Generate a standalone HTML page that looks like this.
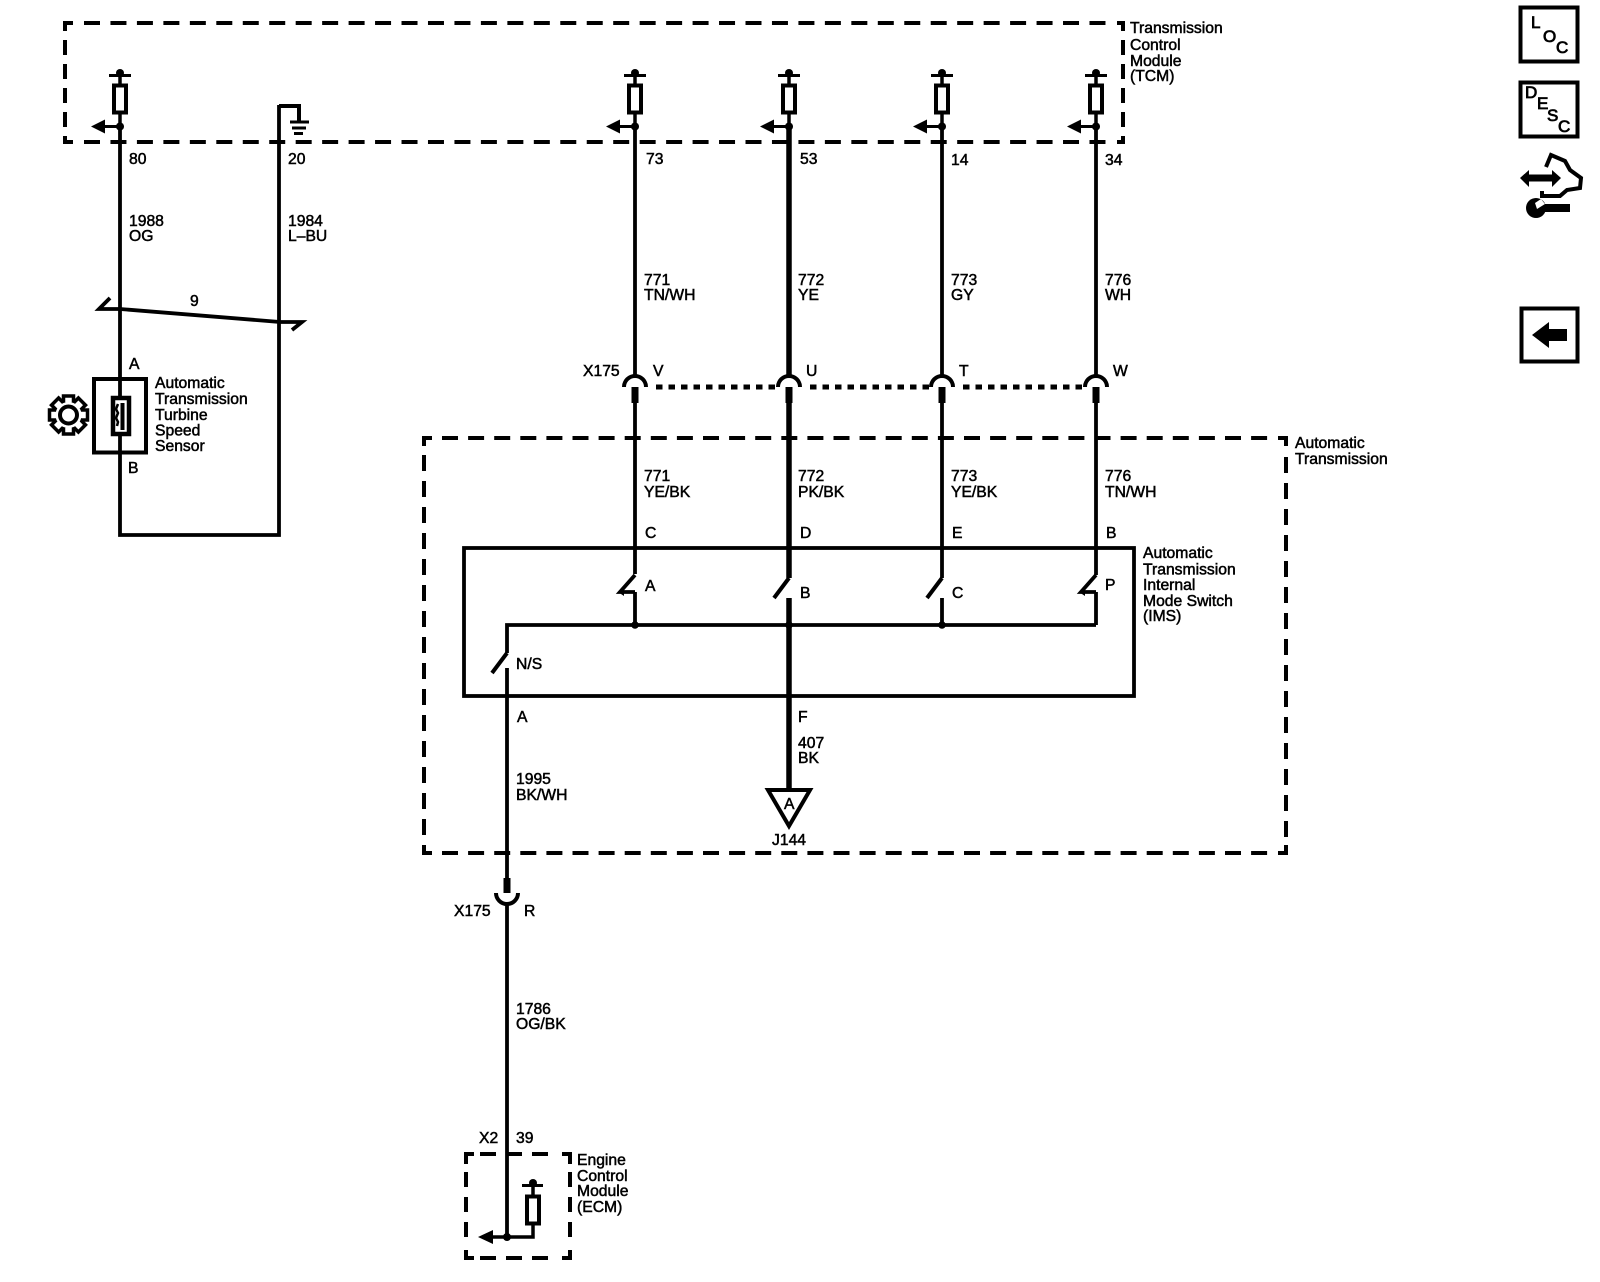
<!DOCTYPE html>
<html lang="en">
<head>
<meta charset="utf-8">
<title>Wiring diagram</title>
<style>
html,body{margin:0;padding:0;background:#fff;}
svg{display:block;}
text{font-family:"Liberation Sans",Arial,sans-serif;font-size:15.7px;fill:#000;stroke:#000;stroke-width:.5px;}
text.ic{font-size:17px;stroke-width:.8px;}
</style>
</head>
<body>
<svg xmlns="http://www.w3.org/2000/svg" width="1600" height="1282" viewBox="0 0 1600 1282">
<rect width="1600" height="1282" fill="#fff"/>
<defs>
<g id="fuse" fill="none" stroke="#000">
<path d="M-11 75.5H11" stroke-width="3"/>
<circle cx="0" cy="73" r="4" fill="#000" stroke="none"/>
<path d="M0 75V85" stroke-width="3.5"/>
<rect x="-6" y="85.5" width="12" height="27" stroke-width="4" fill="#fff"/>
<path d="M0 113V127" stroke-width="3.5"/>
<circle cx="0" cy="126.5" r="4" fill="#000" stroke="none"/>
<path d="M-16 126.5H0" stroke-width="3"/>
<polygon points="-29,126.5 -15,119.5 -15,133.5" fill="#000" stroke="none"/>
</g>
<g id="topconn" fill="none" stroke="#000">
<path d="M-11 387A11 11 0 0 1 11 387" stroke-width="4"/>
<rect x="-3.500" y="387" width="7" height="16" fill="#000" stroke="none"/>
</g>
</defs>

<!-- dashed boxes -->
<g fill="none" stroke="#000" stroke-width="4">
<!-- TCM -->
<path d="M84 23H1110M84 142H1110" stroke-dasharray="16 10.46"/>
<path d="M65 40V128M1123 40V128" stroke-dasharray="15 9"/>
<path d="M65 31V23H73M65 136V142H73M1117 23H1123V31M1117 142H1123V136"/>
<!-- Automatic Transmission -->
<path d="M442 438H1270M442 853H1270" stroke-dasharray="16 10.1"/>
<path d="M424 455V840M1286 457V840" stroke-dasharray="16 10"/>
<path d="M424 446V438H432M424 845V853H432M1278 438H1286V446M1278 853H1286V845"/>
<!-- ECM -->
<path d="M480 1154H555M480 1258H555" stroke-dasharray="16 10"/>
<path d="M466 1172V1245M570 1172V1245" stroke-dasharray="15 10"/>
<path d="M466 1164V1154H474M466 1250V1258H474M562 1154H570V1164M562 1258H570V1250"/>
<!-- X175 dotted -->
<path d="M656 387H778M810 387H930M963 387H1083" stroke-width="5" stroke-dasharray="6.5 6"/>
</g>

<!-- wires -->
<g fill="none" stroke="#000" stroke-width="3.8">
<path d="M120 126V535H279V105"/>
<path d="M279 106H299V121" stroke-width="4"/>
<path d="M290 122H309" stroke-width="3"/>
<path d="M292 128H306" stroke-width="3"/>
<path d="M294 133.500H303" stroke-width="3"/>
<path d="M635 126V377M942 126V377M1096 126V377"/>
<path d="M635 402V574M942 402V578M1096 402V575"/>
<path d="M789 126V377M789 402V578M789 598V790" stroke-width="5.500"/>
<path d="M635 592V625M942 598V625M1096 592V625"/>
<path d="M507 653V625H1096" stroke-width="3.800"/>
<path d="M507 668V878M507 903V1237"/>
<!-- IMS box -->
<rect x="464" y="548" width="670" height="148" stroke-width="3.800"/>
<!-- switches -->
<path d="M635 575L620 592H635" stroke-width="3.800"/>
<path d="M1096 575L1081 592H1096" stroke-width="3.800"/>
<path d="M789 578L774 598" stroke-width="4"/>
<path d="M942 578L927 598" stroke-width="4"/>
<path d="M507 653L492 673" stroke-width="4"/>
<!-- shield -->
<path d="M110 298L99 309H120L280 322H302L292 330" stroke-width="3.800"/>
</g>
<g fill="#000">
<circle cx="635" cy="625" r="3.800"/><circle cx="789" cy="625" r="3.800"/><circle cx="942" cy="625" r="3.800"/>
<polygon points="618,592 624,588 624,596"/>
<polygon points="1079,592 1085,588 1085,596"/>
</g>

<use href="#fuse" x="120"/>
<use href="#fuse" x="635"/>
<use href="#fuse" x="789"/>
<use href="#fuse" x="942"/>
<use href="#fuse" x="1096"/>

<use href="#topconn" x="635"/>
<use href="#topconn" x="789"/>
<use href="#topconn" x="942"/>
<use href="#topconn" x="1096"/>

<!-- lower connector -->
<g fill="none" stroke="#000">
<path d="M496 893A11 11 0 0 0 518 893" stroke-width="4"/>
<rect x="503.500" y="878" width="7" height="15" fill="#000" stroke="none"/>
</g>

<!-- ground triangle -->
<polygon points="768,790 810,790 789,826" fill="#fff" stroke="#000" stroke-width="4" stroke-linejoin="miter"/>

<!-- sensor -->
<rect x="94" y="379" width="52" height="73.500" fill="none" stroke="#000" stroke-width="4"/>
<rect x="113" y="398" width="16" height="36" fill="#fff" stroke="#000" stroke-width="4.500"/>
<path d="M122.500 403V430" stroke="#000" stroke-width="4" fill="none"/>
<path d="M118 404l-2 5l2 4l-2 5l2 4l-1 4" stroke="#000" stroke-width="2.500" fill="none"/>

<!-- gear -->
<g transform="translate(68.500 415)" fill="#fff" stroke="#000" stroke-width="3.500">
<rect x="-5" y="-19" width="10" height="10" transform="rotate(0)"/>
<rect x="-5" y="-19" width="10" height="10" transform="rotate(45)"/>
<rect x="-5" y="-19" width="10" height="10" transform="rotate(90)"/>
<rect x="-5" y="-19" width="10" height="10" transform="rotate(135)"/>
<rect x="-5" y="-19" width="10" height="10" transform="rotate(180)"/>
<rect x="-5" y="-19" width="10" height="10" transform="rotate(225)"/>
<rect x="-5" y="-19" width="10" height="10" transform="rotate(270)"/>
<rect x="-5" y="-19" width="10" height="10" transform="rotate(315)"/>
<circle r="13" stroke="none"/>
<circle r="8.500" stroke-width="4"/>
</g>

<!-- top pin labels -->
<text x="129" y="164">80</text>
<text x="288" y="164">20</text>
<text x="646" y="164">73</text>
<text x="800" y="164">53</text>
<text x="951" y="165">14</text>
<text x="1105" y="165">34</text>
<text x="129" y="226">1988</text>
<text x="129" y="241">OG</text>
<text x="288" y="226">1984</text>
<text x="288" y="241">L–BU</text>
<text x="190" y="306">9</text>
<text x="644" y="285">771</text>
<text x="644" y="300">TN/WH</text>
<text x="798" y="285">772</text>
<text x="798" y="300">YE</text>
<text x="951" y="285">773</text>
<text x="951" y="300">GY</text>
<text x="1105" y="285">776</text>
<text x="1105" y="300">WH</text>

<text x="1130" y="33">Transmission</text>
<text x="1130" y="50">Control</text>
<text x="1130" y="66">Module</text>
<text x="1130" y="81">(TCM)</text>

<text x="129" y="369">A</text>
<text x="128" y="473">B</text>
<text x="155" y="388">Automatic</text>
<text x="155" y="404">Transmission</text>
<text x="155" y="420">Turbine</text>
<text x="155" y="435.500">Speed</text>
<text x="155" y="451">Sensor</text>

<text x="583" y="376">X175</text>
<text x="653" y="376">V</text>
<text x="806" y="376">U</text>
<text x="959" y="376">T</text>
<text x="1113" y="376">W</text>

<text x="1295" y="448">Automatic</text>
<text x="1295" y="464">Transmission</text>

<text x="644" y="481">771</text>
<text x="644" y="497">YE/BK</text>
<text x="798" y="481">772</text>
<text x="798" y="497">PK/BK</text>
<text x="951" y="481">773</text>
<text x="951" y="497">YE/BK</text>
<text x="1105" y="481">776</text>
<text x="1105" y="497">TN/WH</text>

<text x="645" y="538">C</text>
<text x="800" y="538">D</text>
<text x="952" y="538">E</text>
<text x="1106" y="538">B</text>

<text x="1143" y="558">Automatic</text>
<text x="1143" y="574.500">Transmission</text>
<text x="1143" y="590">Internal</text>
<text x="1143" y="606">Mode Switch</text>
<text x="1143" y="621">(IMS)</text>

<text x="645" y="591">A</text>
<text x="800" y="598">B</text>
<text x="952" y="598">C</text>
<text x="1105" y="590">P</text>
<text x="516" y="669">N/S</text>
<text x="517" y="722">A</text>
<text x="798" y="722">F</text>
<text x="798" y="748">407</text>
<text x="798" y="763">BK</text>
<text x="516" y="784">1995</text>
<text x="516" y="800">BK/WH</text>
<text x="784" y="809">A</text>
<text x="772" y="845">J144</text>

<text x="454" y="916">X175</text>
<text x="524" y="916">R</text>
<text x="516" y="1014">1786</text>
<text x="516" y="1029">OG/BK</text>
<text x="479" y="1143">X2</text>
<text x="516" y="1143">39</text>

<text x="577" y="1165">Engine</text>
<text x="577" y="1181">Control</text>
<text x="577" y="1196">Module</text>
<text x="577" y="1212">(ECM)</text>

<!-- ECM fuse -->
<g fill="none" stroke="#000">
<path d="M522 1185.500H543" stroke-width="3"/>
<path d="M533 1185V1195" stroke-width="3.500"/>
<rect x="527" y="1196.500" width="12" height="27" stroke-width="4" fill="#fff"/>
<path d="M533 1224V1237H492" stroke-width="3.500"/>
</g>
<circle cx="533" cy="1183" r="4" fill="#000"/>
<circle cx="507" cy="1237" r="4" fill="#000"/>
<polygon points="478,1237 493,1230 493,1244" fill="#000"/>

<!-- side icons -->
<rect x="1520.500" y="7.500" width="57" height="54" fill="none" stroke="#000" stroke-width="4"/>
<text class="ic" x="1531" y="28">L</text>
<text class="ic" x="1543" y="42">O</text>
<text class="ic" x="1556" y="53">C</text>
<rect x="1520.500" y="82.500" width="57" height="54" fill="none" stroke="#000" stroke-width="4"/>
<text class="ic" x="1525" y="98">D</text>
<text class="ic" x="1537" y="109">E</text>
<text class="ic" x="1547" y="121">S</text>
<text class="ic" x="1558" y="132">C</text>

<path d="M1526 178H1555" stroke="#000" stroke-width="7" fill="none"/>
<polygon points="1520,178 1529,170 1529,187" fill="#000"/>
<polygon points="1561,178 1552,170 1552,187" fill="#000"/>
<path d="M1546 167L1551 155L1565 161L1570 170L1581 178L1580 188L1567 190L1560 196L1542 196V191" fill="none" stroke="#000" stroke-width="4"/>
<circle cx="1536" cy="208" r="10" fill="#000"/>
<path d="M1540 208H1570" stroke="#000" stroke-width="8" fill="none"/>
<path d="M1535 203L1541 199L1545 204L1537 209Z" fill="#fff"/>

<rect x="1521.500" y="308.500" width="56" height="53" fill="none" stroke="#000" stroke-width="4"/>
<polygon points="1532,335 1549,322 1549,329 1567,329 1567,341 1549,341 1549,348" fill="#000"/>
</svg>
</body>
</html>
